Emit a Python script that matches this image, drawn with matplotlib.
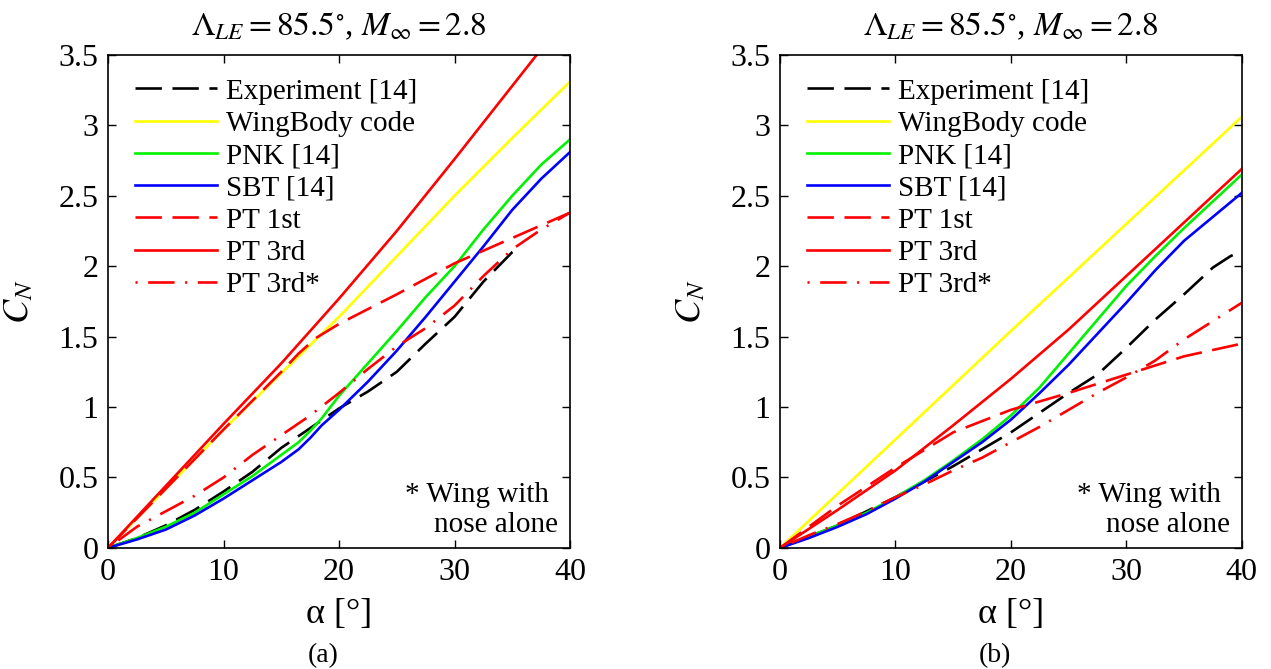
import matplotlib
matplotlib.use("Agg")
import matplotlib.pyplot as plt

plt.rcParams['font.family'] = ['Liberation Serif', 'DejaVu Serif']
plt.rcParams['mathtext.fontset'] = 'stix'

# ---- panel (a) data ----
a_exp_x = [0, 2.5, 5, 7.5, 10, 12.5, 15, 17.5, 20, 22.5, 25, 27.5, 30, 32.5, 35, 35.5]
a_exp_y = [0, 0.07, 0.16, 0.27, 0.40, 0.54, 0.71, 0.85, 0.99, 1.11, 1.25, 1.45, 1.64, 1.89, 2.10, 2.13]

a_wb_x = [0, 5, 10, 15, 20, 25, 30, 35, 40]
a_wb_y = [0, 0.42, 0.84, 1.24, 1.64, 2.07, 2.50, 2.91, 3.31]

a_pnk_x = [0, 2.5, 5, 7.5, 10, 12.5, 14, 15.5, 16.5, 17.5, 18.5, 20, 22.5, 25, 27.5, 30, 32.5, 35, 37.5, 40]
a_pnk_y = [0, 0.07, 0.15, 0.25, 0.38, 0.51, 0.60, 0.69, 0.75, 0.83, 0.92, 1.08, 1.31, 1.54, 1.78, 2.00, 2.26, 2.50, 2.72, 2.90]

a_sbt_x = [0, 2.5, 5, 7.5, 10, 12.5, 15, 16.5, 17.5, 18.5, 20, 22.5, 25, 27.5, 30, 32.5, 35, 37.5, 40]
a_sbt_y = [0, 0.06, 0.13, 0.23, 0.35, 0.48, 0.61, 0.70, 0.78, 0.87, 0.98, 1.18, 1.40, 1.64, 1.89, 2.14, 2.40, 2.62, 2.81]

a_pt1_x = [0, 5, 10, 15, 16.5, 18, 20, 25, 30, 35, 40]
a_pt1_y = [0, 0.42, 0.84, 1.25, 1.38, 1.49, 1.59, 1.80, 2.02, 2.20, 2.38]

a_pt3_x = [0, 5, 10, 15, 20, 25, 30, 35, 40]
a_pt3_y = [0, 0.44, 0.88, 1.31, 1.77, 2.25, 2.76, 3.28, 3.80]

a_pt3s_x = [0, 2.5, 5, 7.5, 10, 12.5, 15, 17.5, 20, 22.5, 25, 27.5, 30, 32.5, 35, 37.5, 40]
a_pt3s_y = [0, 0.15, 0.26, 0.37, 0.50, 0.66, 0.80, 0.94, 1.10, 1.27, 1.43, 1.56, 1.72, 1.93, 2.12, 2.26, 2.38]

# ---- panel (b) data ----
b_exp_x = [0, 5, 10, 12.5, 15, 17.5, 20, 22.5, 25, 27.5, 30, 32.5, 35, 37.5, 39, 39.5]
b_exp_y = [0, 0.16, 0.36, 0.47, 0.58, 0.70, 0.82, 0.96, 1.10, 1.23, 1.42, 1.62, 1.80, 1.99, 2.07, 2.09]

b_wb_x = [0, 10, 20, 30, 40]
b_wb_y = [0, 0.77, 1.54, 2.30, 3.06]

b_pnk_x = [0, 2.5, 5, 7.5, 10, 12.5, 15, 17.5, 20, 22.5, 25, 27.5, 30, 32.5, 35, 37.5, 40]
b_pnk_y = [0, 0.08, 0.16, 0.25, 0.36, 0.48, 0.62, 0.77, 0.94, 1.14, 1.38, 1.62, 1.86, 2.07, 2.27, 2.46, 2.65]

b_sbt_x = [0, 2.5, 5, 7.5, 10, 12.5, 15, 17.5, 20, 22.5, 25, 27.5, 30, 32.5, 35, 37.5, 40]
b_sbt_y = [0, 0.07, 0.15, 0.24, 0.35, 0.47, 0.61, 0.75, 0.91, 1.10, 1.30, 1.52, 1.74, 1.97, 2.18, 2.35, 2.52]

b_pt1_x = [0, 5, 10, 15, 20, 25, 30, 35, 40]
b_pt1_y = [0, 0.30, 0.57, 0.82, 0.98, 1.10, 1.23, 1.36, 1.45]

b_pt3_x = [0, 5, 10, 15, 20, 25, 30, 35, 40]
b_pt3_y = [0, 0.27, 0.55, 0.87, 1.20, 1.55, 1.93, 2.31, 2.69]

b_pt3s_x = [0, 2.5, 5, 7.5, 10, 12.5, 15, 17.5, 20, 22.5, 25, 27.5, 30, 32.5, 35, 37.5, 40]
b_pt3s_y = [0, 0.09, 0.17, 0.26, 0.36, 0.45, 0.55, 0.64, 0.75, 0.86, 0.98, 1.10, 1.21, 1.33, 1.48, 1.61, 1.74]

labels = ['Experiment [14]', 'WingBody code', 'PNK [14]', 'SBT [14]', 'PT 1st', 'PT 3rd', 'PT 3rd*']
xticks = [0, 10, 20, 30, 40]
yticks = [0, 0.5, 1, 1.5, 2, 2.5, 3, 3.5]
yticklabels = ['0', '0.5', '1', '1.5', '2', '2.5', '3', '3.5']

panels = [
    (a_exp_x, a_exp_y, a_wb_x, a_wb_y, a_pnk_x, a_pnk_y, a_sbt_x, a_sbt_y,
     a_pt1_x, a_pt1_y, a_pt3_x, a_pt3_y, a_pt3s_x, a_pt3s_y),
    (b_exp_x, b_exp_y, b_wb_x, b_wb_y, b_pnk_x, b_pnk_y, b_sbt_x, b_sbt_y,
     b_pt1_x, b_pt1_y, b_pt3_x, b_pt3_y, b_pt3s_x, b_pt3s_y),
]

fig = plt.figure(figsize=(12.71, 6.69), dpi=100)
ax_a = fig.add_axes([0.085, 0.181, 0.3635, 0.737])
ax_b = fig.add_axes([0.6137, 0.181, 0.3633, 0.737])
lw = 1.9

for ax, d, cap in zip([ax_a, ax_b], panels, ['(a)', '(b)']):
    ex, ey, wx, wy, px, py, sx, sy, p1x, p1y, p3x, p3y, p3sx, p3sy = d
    ax.plot(ex, ey, color='k', lw=lw, dashes=(10, 4), label=labels[0])
    ax.plot(wx, wy, color=(1, 1, 0), lw=lw, label=labels[1])
    ax.plot(px, py, color=(0, 0.95, 0), lw=lw, label=labels[2])
    ax.plot(sx, sy, color=(0, 0, 1), lw=lw, label=labels[3])
    ax.plot(p1x, p1y, color=(1, 0, 0), lw=lw, dashes=(10, 4), label=labels[4])
    ax.plot(p3x, p3y, color=(1, 0, 0), lw=lw, label=labels[5])
    ax.plot(p3sx, p3sy, color=(1, 0, 0), lw=lw, dashes=(0.8, 4, 10, 4), label=labels[6])

    ax.set_xlim(0, 40)
    ax.set_ylim(0, 3.5)
    ax.set_xticks(xticks)
    ax.set_xticklabels([str(t) for t in xticks])
    ax.set_yticks(yticks)
    ax.set_yticklabels(yticklabels)
    ax.tick_params(direction='in', top=True, right=True, length=6, width=1,
                   labelsize=23, pad=7)
    for s in ax.spines.values():
        s.set_linewidth(1.2)

    ax.set_title(r'$\Lambda_{LE} = 85.5^{\circ}$, $M_{\infty} = 2.8$', fontsize=24, pad=14)
    ax.set_xlabel('α [°]', fontsize=26, labelpad=8)
    ax.set_ylabel('$C_N$', fontsize=26, labelpad=16)

    ax.legend(loc='upper left', frameon=False, fontsize=21, handlelength=2.8,
              borderaxespad=0.3, labelspacing=0.2, handletextpad=0.3,
              bbox_to_anchor=(0.015, 0.994))

    ax.text(0.955, 0.094, '* Wing with', transform=ax.transAxes, ha='right',
            va='baseline', fontsize=21)
    ax.text(0.975, 0.032, 'nose alone', transform=ax.transAxes, ha='right',
            va='baseline', fontsize=21)

    pos = ax.get_position()
    fig.text(pos.x0 + pos.width * 0.466, 0.002, cap, ha='center', va='bottom', fontsize=20)

fig.savefig('out.png', dpi=100)
